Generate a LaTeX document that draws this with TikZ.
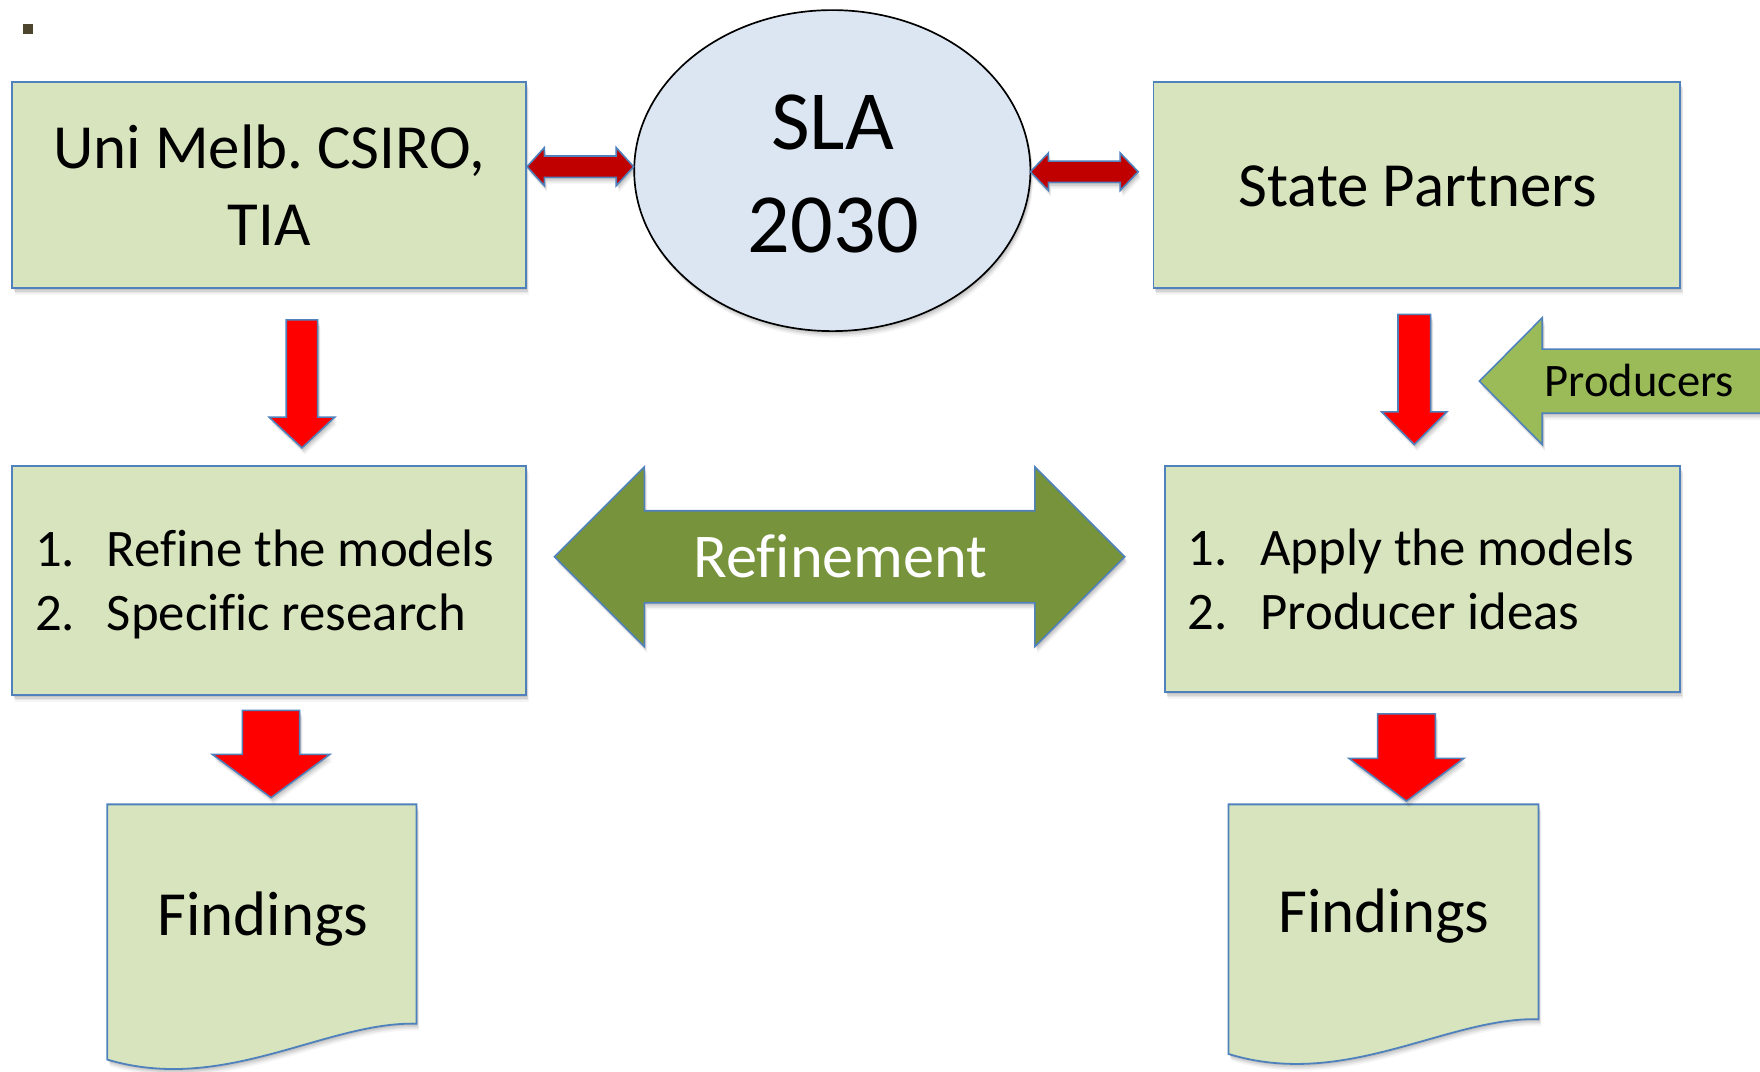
\documentclass[tikz,border=0pt]{standalone}
\usepackage{fontspec}
\setmainfont{Carlito}[Ligatures=NoCommon]
\usetikzlibrary{shapes.geometric,shadows,calc}
\definecolor{boxfill}{HTML}{D7E4BD}
\definecolor{edgeblue}{HTML}{4F81BD}
\definecolor{ellfill}{HTML}{DCE6F2}
\definecolor{redA}{HTML}{FF0000}
\definecolor{darkred}{HTML}{C00000}
\definecolor{prodgreen}{HTML}{9BBB59}
\definecolor{refgreen}{HTML}{77933C}
\definecolor{bulletc}{HTML}{4D452E}
\newcommand\myfs[1]{\fontsize{#1}{#1}\selectfont}
\frenchspacing
\begin{document}
\begin{tikzpicture}[x=1pt,y=-1pt,
  softshadow/.style={
    preaction={fill=black,opacity=0.08,transform canvas={xshift=1pt,yshift=-1.5pt}},
    preaction={fill=black,opacity=0.08,transform canvas={xshift=1.5pt,yshift=-3pt}},
    preaction={fill=black,opacity=0.06,transform canvas={xshift=2pt,yshift=-4.5pt}},
    preaction={fill=black,opacity=0.04,transform canvas={xshift=2.5pt,yshift=-6pt}}},
  greenbox/.style={draw=edgeblue,line width=1.6pt,fill=boxfill,inner sep=0pt,softshadow},
  txt/.style={inner sep=0pt,anchor=base},
  ltxt/.style={inner sep=0pt,anchor=base west},
  redblock/.style={draw=edgeblue,line width=1.4pt,fill=redA,softshadow},
  dredblock/.style={draw=edgeblue,line width=1.4pt,fill=darkred,softshadow},
  hdbl/.style n args={3}{to path={let \p1=(\tikztostart),\p2=(\tikztotarget) in
     (\x1,\y1) -- (\x1+#3,\y1+#2) -- (\x1+#3,\y1+#1) -- (\x2-#3,\y1+#1) -- (\x2-#3,\y1+#2) -- (\x2,\y1)
     -- (\x2-#3,\y1-#2) -- (\x2-#3,\y1-#1) -- (\x1+#3,\y1-#1) -- (\x1+#3,\y1-#2) -- cycle}},
  leftarr/.style n args={3}{to path={let \p1=(\tikztostart),\p2=(\tikztotarget) in
     (\x2,\y2) -- (\x2+#3,\y2+#2) -- (\x2+#3,\y2+#1) -- (\x1,\y2+#1) -- (\x1,\y2-#1) -- (\x2+#3,\y2-#1) -- (\x2+#3,\y2-#2) -- cycle}},
  downarr/.style n args={3}{to path={let \p1=(\tikztostart),\p2=(\tikztotarget) in
     (\x1-#1,\y1) -- (\x1+#1,\y1) -- (\x1+#1,\y2+#3) -- (\x1+#2,\y2+#3) -- (\x2,\y2) -- (\x1-#2,\y2+#3) -- (\x1-#1,\y2+#3) -- cycle}}
]
\useasboundingbox[fill=white] (0,0) rectangle (1568,955);

% bullet
\node[fill=bulletc,minimum width=9pt,minimum height=8.6pt,inner sep=0pt] (bul) at (25,25.7) {};

% boxes
\node[greenbox,minimum width=457.5pt,minimum height=183.7pt] (A) at (239.75,164.95) {};
\node[greenbox,minimum width=469.4pt,minimum height=183.7pt] (B) at (1262.3,164.95) {};
\node[greenbox,minimum width=457.5pt,minimum height=204.1pt] (C) at (239.75,517.25) {};
\node[greenbox,minimum width=459pt,minimum height=201.6pt] (D) at (1267.5,516) {};

% ellipse
\node[ellipse,draw=black,line width=1.5pt,fill=ellfill,minimum width=353pt,minimum height=286pt,inner sep=0pt,softshadow] (S) at (741.5,152) {};

% documents
\path[greenbox] (95.6,716.6) -- (371,716.6) -- (371,912) .. controls (290,910) and (200,975) .. (95.6,944) -- cycle;
\path[greenbox] (1094.5,716.6) -- (1370.6,716.6) -- (1370.6,908) .. controls (1289,906) and (1199,971) .. (1094.5,939) -- cycle;

% texts
\node[txt,font=\myfs{56}] (At1) at (239.75,150) {Uni Melb. CSIRO,};
\node[txt,font=\myfs{56}] (At2) at (239.75,218.7) {TIA};
\node[txt,font=\myfs{56}] (Bt) at (1263,184.3) {State Partners};
\node[txt,font=\myfs{75}] (St1) at (741.7,133) {SLA};
\node[txt,font=\myfs{75}] (St2) at (742.4,224.6) {2030};
\node[ltxt,font=\myfs{47}] (Cn1) at (31,505) {1.};
\node[ltxt,font=\myfs{47}] (Ct1) at (95,505) {Refine the models};
\node[ltxt,font=\myfs{47}] (Cn2) at (31,561.3) {2.};
\node[ltxt,font=\myfs{47}] (Ct2) at (95,561.3) {Specific research};
\node[ltxt,font=\myfs{47}] (Dn1) at (1058,503.5) {1.};
\node[ltxt,font=\myfs{47}] (Dt1) at (1122.7,503.5) {Apply the models};
\node[ltxt,font=\myfs{47}] (Dn2) at (1058,561) {2.};
\node[ltxt,font=\myfs{47}] (Dt2) at (1122.7,561) {Producer ideas};
\node[txt,font=\myfs{56}] (F1) at (234.5,833.4) {Findings};
\node[txt,font=\myfs{56}] (F2) at (1233,831) {Findings};

% arrow end coordinates
\coordinate (h1s) at (469.5,148.5); \coordinate (h1e) at (564.5,148.5);
\coordinate (h2s) at (918,153);     \coordinate (h2e) at (1014,153);
\coordinate (rs) at (494,496);      \coordinate (re) at (1002,496);
\coordinate (ps) at (1585,339.6);   \coordinate (pe) at (1318,339.6);
\coordinate (d1s) at (269,285);     \coordinate (d1e) at (269,399);
\coordinate (d2s) at (1260,280);    \coordinate (d2e) at (1260,396);
\coordinate (d3s) at (241.5,632.8); \coordinate (d3e) at (241.5,710.6);
\coordinate (d4s) at (1253,636);    \coordinate (d4e) at (1253,713.7);

% block arrows
\draw[dredblock,hdbl={9.5pt}{17pt}{15.5pt}] (h1s) to (h1e);
\draw[dredblock,hdbl={9.5pt}{16.7pt}{16pt}] (h2s) to (h2e);
\draw[redblock,downarr={14pt}{29.3pt}{27.4pt}] (d1s) to (d1e);
\draw[redblock,downarr={14.5pt}{29pt}{29pt}] (d2s) to (d2e);
\draw[redblock,downarr={25.5pt}{52.5pt}{38.6pt}] (d3s) to (d3e);
\draw[redblock,downarr={25.7pt}{51.2pt}{38.1pt}] (d4s) to (d4e);
\draw[draw=edgeblue,line width=1.4pt,fill=refgreen,softshadow,hdbl={41pt}{80pt}{80pt}] (rs) to (re);
\draw[draw=edgeblue,line width=1.4pt,fill=prodgreen,softshadow,leftarr={28.5pt}{56.5pt}{56pt}] (ps) to (pe);

\node[txt,font=\myfs{55.5},text=white] (Rt) at (748.8,514.5) {Refinement};
\node[txt,font=\myfs{41.5}] (Pt) at (1460.5,353.4) {Producers};
\end{tikzpicture}
\end{document}
